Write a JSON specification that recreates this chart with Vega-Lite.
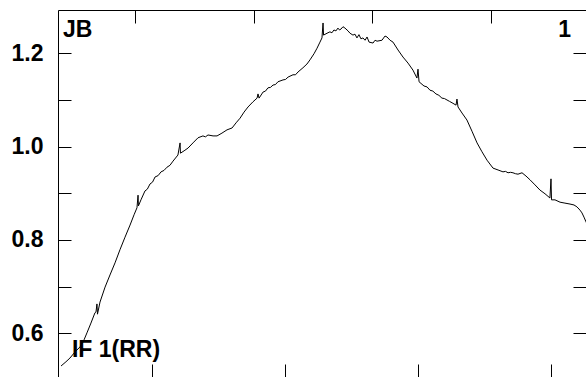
{
  "$schema": "https://vega.github.io/schema/vega-lite/v6.json",
  "autosize": "none",
  "padding": {"left": 58, "top": 10, "right": 0, "bottom": 0},
  "width": 528,
  "height": 367,
  "background": "white",
  "config": {
    "view": {"stroke": null},
    "font": "Liberation Sans",
    "axis": {"grid": false, "tickColor": "#000", "domainColor": "#000", "tickSize": -13, "tickWidth": 1, "domainWidth": 1}
  },
  "resolve": {"axis": {"x": "independent", "y": "independent"}},
  "layer": [
    {
      "data": {"values": [
        {"x": 331.6, "y": 0.530}, {"x": 335.3, "y": 0.539}, {"x": 338.3, "y": 0.547}, {"x": 342.1, "y": 0.560},
        {"x": 345.9, "y": 0.571}, {"x": 348.9, "y": 0.586}, {"x": 351.1, "y": 0.601}, {"x": 354.1, "y": 0.622},
        {"x": 357.1, "y": 0.644}, {"x": 357.9, "y": 0.646}, {"x": 358.6, "y": 0.663}, {"x": 359.0, "y": 0.641},
        {"x": 360.9, "y": 0.667}, {"x": 364.7, "y": 0.699}, {"x": 368.4, "y": 0.725}, {"x": 372.2, "y": 0.751},
        {"x": 375.9, "y": 0.779}, {"x": 379.7, "y": 0.806}, {"x": 383.5, "y": 0.832}, {"x": 386.5, "y": 0.854},
        {"x": 388.7, "y": 0.869}, {"x": 389.5, "y": 0.896}, {"x": 389.8, "y": 0.873}, {"x": 391.7, "y": 0.886},
        {"x": 394.7, "y": 0.905}, {"x": 396.5, "y": 0.909}, {"x": 398.5, "y": 0.920}, {"x": 400.4, "y": 0.924}, {"x": 402.3, "y": 0.935}, {"x": 404.6, "y": 0.938}, {"x": 406.8, "y": 0.946},
        {"x": 409.0, "y": 0.949}, {"x": 411.3, "y": 0.956}, {"x": 413.5, "y": 0.960}, {"x": 415.8, "y": 0.969}, {"x": 419.5, "y": 0.982}, {"x": 421.1, "y": 1.008},
        {"x": 421.4, "y": 0.986}, {"x": 424.1, "y": 0.991}, {"x": 427.1, "y": 0.997}, {"x": 430.8, "y": 1.008},
        {"x": 434.6, "y": 1.019}, {"x": 438.3, "y": 1.023}, {"x": 440.2, "y": 1.021}, {"x": 442.1, "y": 1.025}, {"x": 445.9, "y": 1.023},
        {"x": 448.9, "y": 1.023}, {"x": 452.6, "y": 1.029}, {"x": 456.4, "y": 1.036}, {"x": 460.2, "y": 1.040},
        {"x": 463.2, "y": 1.051}, {"x": 466.2, "y": 1.061}, {"x": 469.2, "y": 1.074}, {"x": 472.2, "y": 1.085},
        {"x": 475.9, "y": 1.096}, {"x": 479.0, "y": 1.104}, {"x": 479.7, "y": 1.113}, {"x": 480.5, "y": 1.104},
        {"x": 483.5, "y": 1.117}, {"x": 485.3, "y": 1.119}, {"x": 487.2, "y": 1.126}, {"x": 489.1, "y": 1.127}, {"x": 491.0, "y": 1.132}, {"x": 492.8, "y": 1.133}, {"x": 494.7, "y": 1.139},
        {"x": 498.5, "y": 1.143}, {"x": 500.4, "y": 1.144}, {"x": 502.3, "y": 1.149}, {"x": 506.0, "y": 1.154}, {"x": 507.9, "y": 1.154}, {"x": 509.8, "y": 1.160},
        {"x": 513.5, "y": 1.169}, {"x": 516.5, "y": 1.177}, {"x": 518.8, "y": 1.186}, {"x": 521.8, "y": 1.199},
        {"x": 524.1, "y": 1.211}, {"x": 526.3, "y": 1.224}, {"x": 527.8, "y": 1.233}, {"x": 528.6, "y": 1.265},
        {"x": 529.0, "y": 1.239}, {"x": 531.6, "y": 1.243}, {"x": 533.8, "y": 1.246}, {"x": 535.3, "y": 1.244}, {"x": 536.8, "y": 1.250},
        {"x": 538.3, "y": 1.248}, {"x": 539.8, "y": 1.254}, {"x": 541.0, "y": 1.250}, {"x": 542.1, "y": 1.252}, {"x": 543.6, "y": 1.257}, {"x": 545.1, "y": 1.254}, {"x": 547.4, "y": 1.248},
        {"x": 548.9, "y": 1.243}, {"x": 551.1, "y": 1.239}, {"x": 552.6, "y": 1.241}, {"x": 554.1, "y": 1.233}, {"x": 555.6, "y": 1.240}, {"x": 557.1, "y": 1.231},
        {"x": 558.6, "y": 1.233}, {"x": 560.2, "y": 1.228}, {"x": 561.7, "y": 1.235}, {"x": 563.2, "y": 1.224}, {"x": 566.2, "y": 1.222}, {"x": 567.7, "y": 1.228}, {"x": 569.2, "y": 1.226},
        {"x": 572.9, "y": 1.228}, {"x": 575.2, "y": 1.237}, {"x": 576.7, "y": 1.235}, {"x": 579.0, "y": 1.228},
        {"x": 581.2, "y": 1.224}, {"x": 585.0, "y": 1.207}, {"x": 588.7, "y": 1.192}, {"x": 592.5, "y": 1.179},
        {"x": 596.2, "y": 1.164}, {"x": 599.2, "y": 1.147}, {"x": 600.0, "y": 1.166}, {"x": 600.8, "y": 1.139},
        {"x": 604.5, "y": 1.130}, {"x": 606.8, "y": 1.128}, {"x": 609.0, "y": 1.121}, {"x": 611.2, "y": 1.119}, {"x": 613.5, "y": 1.113}, {"x": 615.7, "y": 1.110}, {"x": 618.0, "y": 1.104},
        {"x": 619.9, "y": 1.103}, {"x": 621.8, "y": 1.100}, {"x": 623.7, "y": 1.097}, {"x": 625.6, "y": 1.094}, {"x": 628.6, "y": 1.089}, {"x": 629.3, "y": 1.102},
        {"x": 630.1, "y": 1.085}, {"x": 633.1, "y": 1.072}, {"x": 636.8, "y": 1.057}, {"x": 640.6, "y": 1.033},
        {"x": 644.4, "y": 1.008}, {"x": 648.1, "y": 0.989}, {"x": 651.9, "y": 0.971}, {"x": 656.4, "y": 0.954},
        {"x": 660.2, "y": 0.950}, {"x": 663.9, "y": 0.946}, {"x": 665.8, "y": 0.947}, {"x": 667.7, "y": 0.944}, {"x": 669.6, "y": 0.945}, {"x": 671.4, "y": 0.944},
        {"x": 673.3, "y": 0.942}, {"x": 675.2, "y": 0.941}, {"x": 678.2, "y": 0.944}, {"x": 681.2, "y": 0.937}, {"x": 684.2, "y": 0.929},
        {"x": 688.0, "y": 0.918}, {"x": 691.7, "y": 0.907}, {"x": 695.5, "y": 0.899}, {"x": 699.2, "y": 0.890},
        {"x": 700.0, "y": 0.931}, {"x": 700.4, "y": 0.886}, {"x": 703.0, "y": 0.886}, {"x": 706.8, "y": 0.881},
        {"x": 710.5, "y": 0.879}, {"x": 714.3, "y": 0.877}, {"x": 717.3, "y": 0.875}, {"x": 719.5, "y": 0.871},
        {"x": 721.8, "y": 0.864}, {"x": 723.3, "y": 0.858}, {"x": 724.8, "y": 0.849}, {"x": 726.3, "y": 0.839},
        {"x": 728.6, "y": 0.826}
      ]},
      "mark": {"type": "line", "color": "#000", "strokeWidth": 1, "clip": true},
      "encoding": {
        "x": {"field": "x", "type": "quantitative", "scale": {"domain": [329.32, 726.32], "nice": false, "zero": false},
          "axis": {"orient": "bottom", "title": null, "labels": false, "domain": false, "values": [400, 500, 600, 700]}},
        "y": {"field": "y", "type": "quantitative", "scale": {"domain": [0.5064, 1.2928], "nice": false, "zero": false},
          "axis": {"orient": "left", "title": null, "values": [0.6, 0.7, 0.8, 0.9, 1.0, 1.1, 1.2],
            "labelExpr": "round(datum.value*10) % 2 == 0 ? format(datum.value, '.1f') : ''",
            "labelFont": "Liberation Sans", "labelFontWeight": "bold", "labelFontSize": 23, "labelColor": "#000",
            "labelPadding": 28, "labelFlush": false, "labelOverlap": false}}
      }
    },
    {
      "data": {"values": [{"label": "JB"}]},
      "mark": {"type": "text", "align": "left", "baseline": "alphabetic", "font": "Liberation Sans", "fontWeight": "bold", "fontSize": 23, "color": "#000"},
      "encoding": {
        "text": {"field": "label"},
        "x": {"datum": 333.1, "type": "quantitative", "scale": {"domain": [329.32, 726.32], "nice": false, "zero": false},
          "axis": {"orient": "top", "title": null, "labels": false, "values": [387.2, 476.7, 565.4, 654.9]}},
        "y": {"datum": 1.2356, "type": "quantitative", "scale": {"domain": [0.5064, 1.2928], "nice": false, "zero": false},
          "axis": {"orient": "right", "title": null, "labels": false, "domain": false, "values": [0.6, 0.7, 0.8, 0.9, 1.0, 1.1, 1.2]}}
      }
    },
    {
      "data": {"values": [{"label": "1"}]},
      "mark": {"type": "text", "align": "right", "baseline": "alphabetic", "font": "Liberation Sans", "fontWeight": "bold", "fontSize": 23, "color": "#000"},
      "encoding": {
        "text": {"field": "label"},
        "x": {"datum": 715.0, "type": "quantitative", "axis": null},
        "y": {"datum": 1.2356, "type": "quantitative", "axis": null}
      }
    },
    {
      "data": {"values": [{"label": "IF 1(RR)"}]},
      "mark": {"type": "text", "align": "left", "baseline": "alphabetic", "font": "Liberation Sans", "fontWeight": "bold", "fontSize": 23, "color": "#000"},
      "encoding": {
        "text": {"field": "label"},
        "x": {"datum": 339.8, "type": "quantitative", "axis": null},
        "y": {"datum": 0.5493, "type": "quantitative", "axis": null}
      }
    }
  ]
}
